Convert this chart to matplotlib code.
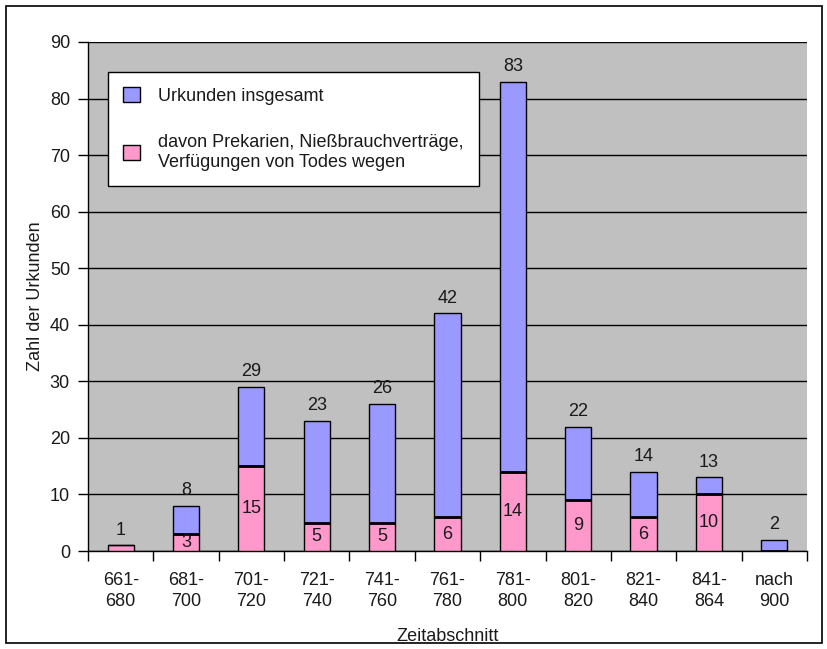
import matplotlib
matplotlib.use("Agg")
import matplotlib.pyplot as plt
from matplotlib.patches import Rectangle
import numpy as np

plt.rcParams['font.family'] = ['Liberation Sans', 'DejaVu Sans']

categories = ["661-\n680", "681-\n700", "701-\n720", "721-\n740", "741-\n760",
              "761-\n780", "781-\n800", "801-\n820", "821-\n840", "841-\n864", "nach\n900"]
totals = [1, 8, 29, 23, 26, 42, 83, 22, 14, 13, 2]
subset = [1, 3, 15, 5, 5, 6, 14, 9, 6, 10, 0]
subset_labels = [None, 3, 15, 5, 5, 6, 14, 9, 6, 10, None]

blue = "#9999FF"
pink = "#FF99CC"
gray = "#C0C0C0"
txt = "#1a1a1a"
fs = 13

fig = plt.figure(figsize=(8.28, 6.49), dpi=100)
fig.patch.set_facecolor("white")
fig.add_artist(Rectangle((0.007, 0.009), 0.986, 0.982, transform=fig.transFigure,
                         fill=False, edgecolor="black", linewidth=1.2))

ax = fig.add_axes([0.1063, 0.151, 0.8683, 0.7843])
ax.set_facecolor(gray)

x = np.arange(len(categories))
width = 0.4
rest = [t - s for t, s in zip(totals, subset)]

ax.bar(x, subset, width, color=pink, edgecolor="black", linewidth=1.0, zorder=3,
       label="davon Prekarien, Nießbrauchverträge,\nVerfügungen von Todes wegen")
ax.bar(x, rest, width, bottom=subset, color=blue, edgecolor="black", linewidth=1.0,
       zorder=3, label="Urkunden insgesamt")
# thicker divider between the two parts
for xi, s, t in zip(x, subset, totals):
    if t > s:
        ax.plot([xi - width / 2, xi + width / 2], [s, s], color="black", lw=2.0,
                zorder=4, solid_capstyle="butt")

for xi, t in zip(x, totals):
    ax.text(xi, t + 1.2, str(t), ha="center", va="bottom", fontsize=fs, color=txt)
for xi, s, lab in zip(x, subset, subset_labels):
    if lab is not None:
        ax.text(xi, s / 2, str(lab), ha="center", va="center", fontsize=fs,
                color=txt, zorder=5)

ax.set_xlim(-0.5, len(categories) - 0.5)
ax.set_ylim(0, 90)
ax.set_yticks(np.arange(0, 91, 10))
ax.yaxis.grid(True, color="black", linewidth=1.0, zorder=1)
ax.set_axisbelow(True)

ax.set_xticks(x)
ax.set_xticklabels(categories, fontsize=fs, color=txt, linespacing=1.3)
ax.set_xticks(np.arange(-0.5, len(categories), 1), minor=True)
ax.tick_params(axis="x", which="major", length=0, pad=15)
ax.tick_params(axis="x", which="minor", length=7, width=1.0, direction="out")
ax.tick_params(axis="y", length=7, width=1.0, direction="out", labelsize=fs,
               labelcolor=txt, pad=6)

for side in ("top", "right"):
    ax.spines[side].set_visible(False)
for side in ("left", "bottom"):
    ax.spines[side].set_linewidth(1.0)

ax.set_xlabel("Zeitabschnitt", fontsize=fs, color=txt, labelpad=13)
ax.set_ylabel("Zahl der Urkunden", fontsize=fs, color=txt, labelpad=4)

handles, labels = ax.get_legend_handles_labels()
leg = ax.legend(handles[::-1], labels[::-1], loc="upper left",
                bbox_to_anchor=(0.028, 0.941), fontsize=fs, frameon=True,
                fancybox=False, edgecolor="black", facecolor="white", framealpha=1,
                handlelength=0.9, handleheight=0.9, handletextpad=1.0,
                borderpad=0.85, labelspacing=1.6, borderaxespad=0)
leg.get_frame().set_linewidth(1.0)
for t in leg.get_texts():
    t.set_color(txt)

fig.savefig("out.png", dpi=100)
